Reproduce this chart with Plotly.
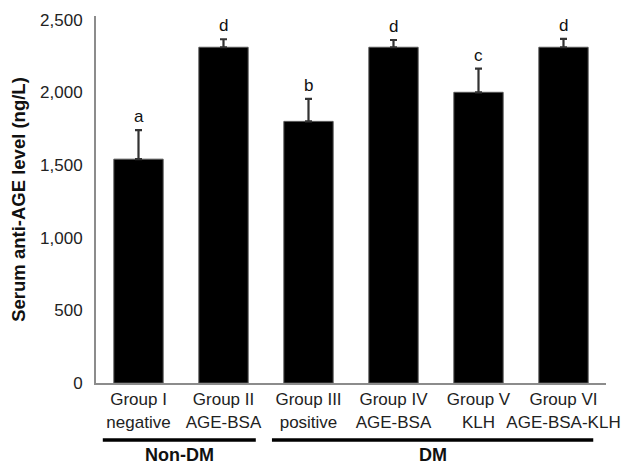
import plotly.graph_objects as go

categories = ["Group I<br>negative", "Group II<br>AGE-BSA", "Group III<br>positive",
              "Group IV<br>AGE-BSA", "Group V<br>KLH", "Group VI<br>AGE-BSA-KLH"]
values = [1540, 2310, 1800, 2310, 2000, 2310]
errors = [200, 55, 155, 50, 163, 58]
letters = ["a", "d", "b", "d", "c", "d"]
groups = [("Non-DM", -0.42, 1.38), ("DM", 1.57, 5.35)]
y_ticks = [0, 500, 1000, 1500, 2000, 2500]

FONT = "Liberation Sans, Arial, sans-serif"

fig = go.Figure()
fig.add_trace(go.Bar(
    x=list(range(len(categories))), y=values,
    marker=dict(color="black", line=dict(color="#555555", width=1)),
    width=0.58,
    error_y=dict(type="data", array=errors, arrayminus=[0] * len(errors), symmetric=False,
                 color="#333333", thickness=2.2, width=3.5),
))

for i, (v, e, l) in enumerate(zip(values, errors, letters)):
    fig.add_annotation(x=i, y=v + e, text=l, showarrow=False, yanchor="bottom", yshift=2,
                       font=dict(family=FONT, size=17, color="#111111"))

for name, x0, x1 in groups:
    fig.add_shape(type="line", xref="x", yref="paper", x0=x0, x1=x1, y0=-0.155, y1=-0.155,
                  line=dict(color="black", width=3.5))
    fig.add_annotation(x=(x0 + x1) / 2, xref="x", yref="paper", y=-0.197, text="<b>%s</b>" % name,
                       showarrow=False, yanchor="middle",
                       font=dict(family=FONT, size=18, color="#111111"))

fig.update_layout(
    width=634, height=466,
    margin=dict(l=96, r=28, t=16, b=83),
    paper_bgcolor="white", plot_bgcolor="white",
    showlegend=False,
    font=dict(family=FONT, size=17, color="#222222"),
    xaxis=dict(tickmode="array", tickvals=list(range(len(categories))), ticktext=categories,
               range=[-0.5, 5.5], showline=True, linecolor="#8c8c8c", linewidth=2,
               ticks="", showgrid=False, zeroline=False,
               tickangle=0, automargin=False,
               tickfont=dict(family=FONT, size=17, color="#222222")),
    yaxis=dict(range=[0, 2525], tickvals=y_ticks, tickformat=",d",
               showline=True, linecolor="#8c8c8c", linewidth=2, showgrid=False, zeroline=False,
               ticks="outside", ticklen=8, tickcolor="white", automargin=False,
               title=dict(text="<b>Serum anti-AGE level (ng/L)</b>", standoff=10,
                          font=dict(family=FONT, size=18.5, color="#111111")),
               tickfont=dict(family=FONT, size=17, color="#222222")),
)

fig.write_html("out.html", config={"displayModeBar": False},
               post_script="document.body.style.margin='0';document.body.style.overflow='hidden';")
